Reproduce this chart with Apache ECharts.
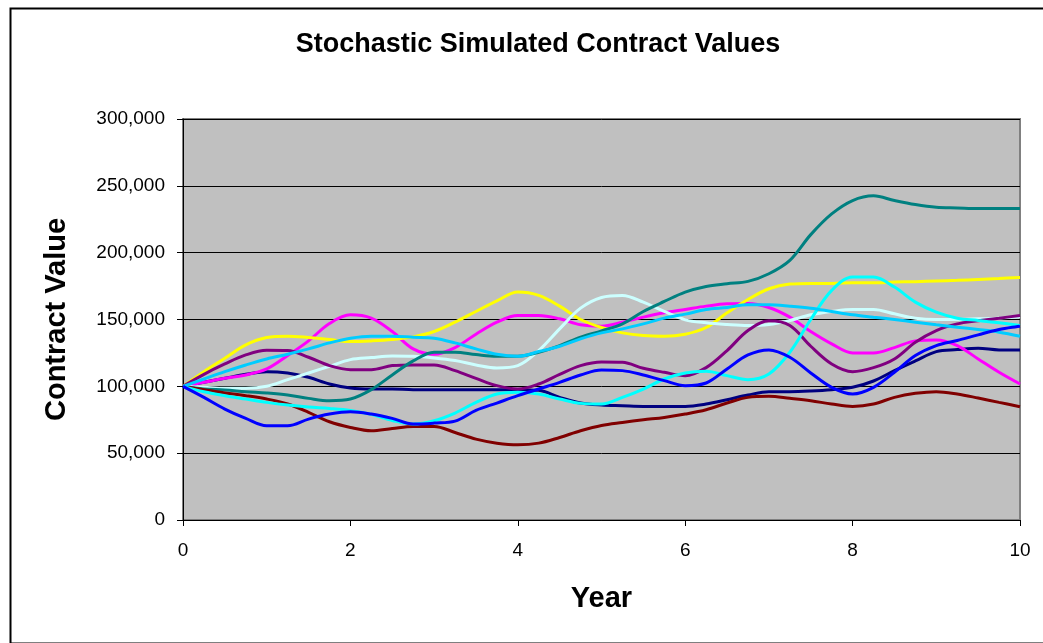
<!DOCTYPE html>
<html>
<head>
<meta charset="utf-8">
<script src="https://cdn.jsdelivr.net/npm/echarts@6/dist/echarts.min.js"></script>
<style>
html,body{margin:0;padding:0;background:#fff;}
#chart{width:1043px;height:643px;}
</style>
</head>
<body>
<div id="chart"></div>
<script>
var years = [0,0.25,0.5,0.75,1,1.25,1.5,1.75,2,2.25,2.5,2.75,3,3.25,3.5,3.75,4,4.25,4.5,4.75,5,5.25,5.5,5.75,6,6.25,6.5,6.75,7,7.25,7.5,7.75,8,8.25,8.5,8.75,9,9.25,9.5,9.75,10];
var xTicks = [0,2,4,6,8,10];
var yTicks = [0,50000,100000,150000,200000,250000,300000];

var navy    = [100,103,106,109,111,110,106.75,101.75,98.75,98,98,97.5,97.5,97.5,97.5,97.5,97.5,97,91.75,87.5,86,85.5,85,85,85,86.75,90,93.5,96,96,96.5,97.5,99.25,104,111.75,119,126,127.5,128.5,127.25,127.25];
var magenta = [100,103,106,108.5,113,123,134,147,153.5,151,141,128,124,129,139,148,153,153,150.5,146,145,148,151.75,155,157.5,160,161.75,162,159,151.75,141,131.75,125,125,129,134,134.75,130.5,120.5,110.5,101.75];
var yellow  = [100,111,121,131,136.5,137.5,136.5,135,133.5,134,135,137,141,148,156,164,170.5,168,160,150,144,140,138,137.5,139,144,155,165,173,176.5,177,177,177.5,177.5,178,178.3,178.8,179.3,180,180.7,181.5];
var lightCyan = [100,99.25,98.5,98.5,100,105,110,115,120,121.5,122.75,122.5,121.25,119.25,116,113.75,115.5,126.75,143,158.5,166.5,168,163,156,149.75,147.5,146.25,145.5,146.25,149.25,153.5,156,157.5,157.5,154.25,151,150,150,150.5,151,152];
var purple  = [100,109,116.75,123.5,127,126.75,121.75,115.5,112.5,112.5,115.5,116,116,111.75,106,100.5,98,101.75,109,115.5,118.25,118,113.5,110.5,108,114,126.75,141.75,149,145.5,130,116.75,111,114,120.5,133,141.75,146.75,149,151,153];
var teal    = [100,98,97.25,96,95,93.5,91,89.25,90.5,97.5,108.5,119,125.5,125.5,123.75,122.5,122.5,125.5,130.5,136.75,141.5,146.75,156,163.5,170.5,174.75,176.75,178.5,184.25,194.25,213.5,229,239,242.5,239,236,234,233.5,233,233,233];
var cyan    = [100,96,93,90.5,88,86,84.5,83.5,82,79,74.5,71.75,74.25,80,88,94.25,95.5,94.25,90.5,87.25,86.75,91.75,98,105.5,110,111.25,108,105,109.25,125.5,150,171.75,181.75,181.75,174.25,163,155.5,151,149.25,147.5,145.5];
var skyBlue = [100,105.5,111,116,120.5,124,128,132.5,136,137.5,137.5,136.75,136,132.5,128,124,122.5,126,130,135.5,140,143,146.75,151,154,157.5,159,161,161,160,158.5,156,153.5,151.75,150,148,146,144.25,142.5,140.5,137.5];
var blue    = [100,91.75,83,76,70.5,70.5,75.5,79.25,81,79.25,76,71.75,72.5,74,82,87.5,93,98,103,108.5,112.25,111.75,108.5,104.25,100.5,102.5,113,123.5,127.25,121.75,110,99.25,94.25,99.25,110.5,123,130.5,134.25,138.5,142.5,145];
var darkRed = [100,97.5,95,93,90.5,86.75,80.5,73.5,69.25,66.75,68.5,70,70,65.5,60.5,57.5,56.25,57.5,61.75,66.75,70.75,73,75,76.75,79.25,82.5,87.5,91.75,92.5,91,89.25,86.75,85,86.75,91.75,94.75,96,94.25,91.25,88,84.75];

var seriesDefs = [
  {name:'Sim 1', data:navy, color:'#000080'},
  {name:'Sim 2', data:magenta, color:'#FF00FF'},
  {name:'Sim 3', data:yellow, color:'#FFFF00'},
  {name:'Sim 4', data:lightCyan, color:'#CCFFFF'},
  {name:'Sim 5', data:purple, color:'#800080'},
  {name:'Sim 6', data:teal, color:'#008080'},
  {name:'Sim 7', data:darkRed, color:'#800000'},
  {name:'Sim 8', data:cyan, color:'#00FFFF'},
  {name:'Sim 9', data:skyBlue, color:'#00CCFF'},
  {name:'Sim 10', data:blue, color:'#0000FF'}
];

var FONT = 'Liberation Sans, Arial, sans-serif';
var chart = echarts.init(document.getElementById('chart'), null, {renderer:'canvas'});
var series = seriesDefs.map(function(s){
  return {
    name: s.name,
    type: 'line',
    smooth: 0.35,
    symbol: 'none',
    lineStyle: {color: s.color, width: 3},
    itemStyle: {color: s.color},
    data: years.map(function(x, i){ return [x, s.data[i] * 1000]; }),
    animation: false,
    z: 3
  };
});

chart.setOption({
  animation: false,
  backgroundColor: '#ffffff',
  title: {
    text: 'Stochastic Simulated Contract Values',
    left: 533, top: 26, textAlign: 'center',
    textStyle: {fontFamily: FONT, fontSize: 27, fontWeight: 'bold', color: '#000'}
  },
  grid: {left: 183, right: 23, top: 119, bottom: 123, show: true, backgroundColor: '#C0C0C0', borderColor: '#808080', borderWidth: 2},
  xAxis: {
    type: 'value', min: 0, max: 10, interval: 2,
    name: 'Year', nameLocation: 'middle', nameGap: 64,
    nameTextStyle: {fontFamily: FONT, fontSize: 29, fontWeight: 'bold', color: '#000'},
    axisLine: {onZero: false, lineStyle: {color: '#000', width: 1}},
    axisTick: {show: true, inside: false, length: 6, lineStyle: {color: '#000'}},
    axisLabel: {fontFamily: FONT, fontSize: 19, color: '#000', margin: 21,
      formatter: function(v){ return xTicks.indexOf(v) >= 0 ? String(v) : ''; }},
    splitLine: {show: false}
  },
  yAxis: {
    type: 'value', min: 0, max: 300000, interval: 50000,
    name: 'Contract Value', nameLocation: 'middle', nameGap: 112, nameRotate: 90,
    nameTextStyle: {fontFamily: FONT, fontSize: 29, fontWeight: 'bold', color: '#000'},
    axisLine: {show: true, lineStyle: {color: '#000', width: 1}},
    axisTick: {show: true, inside: false, length: 6, lineStyle: {color: '#000'}},
    axisLabel: {fontFamily: FONT, fontSize: 19, color: '#000', margin: 18,
      formatter: function(v){ return yTicks.indexOf(v) >= 0 ? v.toLocaleString('en-US') : ''; }},
    splitLine: {show: true, lineStyle: {color: '#000', width: 1}}
  },
  graphic: [{
    type: 'rect', left: 8, top: 6, z: 100, silent: true,
    shape: {width: 1050, height: 635},
    style: {fill: 'none', stroke: '#000', lineWidth: 2}
  }],
  series: series
});
</script>
</body>
</html>
